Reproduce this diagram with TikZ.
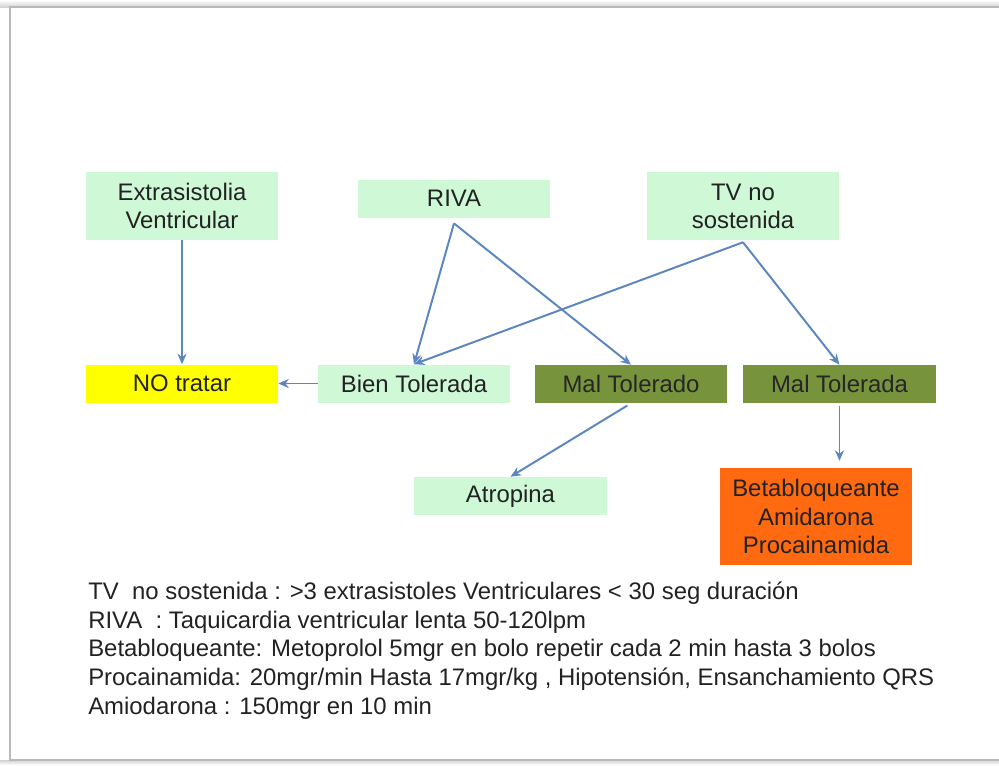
\documentclass[tikz,border=0pt]{standalone}
\usepackage{fontspec}
\setmainfont{Liberation Sans}
\usepackage{tikz}
\usetikzlibrary{arrows.meta, positioning}
\definecolor{mint}{HTML}{CFF8D6}
\definecolor{olive}{HTML}{77933C}
\definecolor{flowblue}{HTML}{5B86BF}
\definecolor{notreat}{HTML}{FFFF00}
\definecolor{drug}{HTML}{FF6A10}
\definecolor{ink}{HTML}{222222}

\begin{document}
\begin{tikzpicture}[
    x=0.025cm, y=-0.025cm,
    font=\fontsize{17}{20}\selectfont,
    box/.style={minimum width=4.8cm, minimum height=0.95cm, align=center,
        inner sep=1pt, text=ink},
    ritmo/.style={box, fill=mint},
    bien/.style={box, fill=mint},
    mal/.style={box, fill=olive, text=black!85},
    notto/.style={box, fill=notreat},
    tto/.style={box, fill=drug, minimum height=2.42cm},
    flow/.style={-{Stealth[length=7.5pt, width=6.5pt]}, line width=1.4pt, color=flowblue},
    nota/.style={font=\fontsize{17}{20.3}\selectfont, align=left, text=ink, inner sep=0pt}
]
\useasboundingbox (0,0) rectangle (999,765);

% =====================================================
% SLIDE FRAME
% =====================================================
\fill[top color=white, bottom color=gray!35] (0,0) rectangle (1010,7);
\fill[top color=gray!35, bottom color=white] (0,760) rectangle (1010,765);
\draw[gray!55, line width=1.2pt] (10,7) rectangle (1010,760);

% =====================================================
% ARRHYTHMIAS (top row)
% =====================================================
\node[ritmo, minimum height=1.7cm] (extra) at (182,206) {Extrasistolia\\Ventricular};
\node[ritmo] (riva) at (454,198.5) {RIVA};
\node[ritmo, minimum height=1.7cm] (tvns) at (743,206) {TV no\\sostenida};

% fork points just under the boxes
\coordinate[below=0.14cm of riva.south] (rivafork);
\coordinate[below=0.05cm of tvns.south] (tvfork);

% =====================================================
% TOLERANCE (middle row)
% =====================================================
\node[notto] (notratar) at (182,383.5) {NO tratar};
\node[bien] (bientol) at (414,383.5) {Bien Tolerada};
\node[mal] (maltolo) at (631,384) {Mal Tolerado};
\node[mal] (maltola) at (839.5,384) {Mal Tolerada};

% =====================================================
% TREATMENT (bottom row)
% =====================================================
\node[bien] (atropina) at (510.5,496) {Atropina};
\node[tto] (farmacos) at (816,516.5) {Betabloqueante\\Amidarona\\Procainamida};

% Flows
\draw[flow] (extra.south) -- (notratar.north);
\draw[flow] (rivafork) -- (bientol.north);
\draw[flow] (rivafork) -- (maltolo.north);
\draw[flow] (tvfork) -- (bientol.north);
\draw[flow] (tvfork) -- (maltola.north);
\draw[flow] (bientol.west) -- (notratar.east);
\draw[flow, shorten <=3pt] (maltolo.south) -- (atropina.north);
\draw[flow, shorten <=2pt, shorten >=5pt] (maltola.south) -- (maltola.south |- farmacos.north);

% =====================================================
% NOTES
% =====================================================
\node[nota, anchor=north west] (notas) at (88,582) {%
TV\ \ no sostenida : >3 extrasistoles Ventriculares < 30 seg duración\\
RIVA\ \ : Taquicardia ventricular lenta 50-120lpm\\
Betabloqueante: Metoprolol 5mgr en bolo repetir cada 2 min hasta 3 bolos\\
Procainamida: 20mgr/min Hasta 17mgr/kg , Hipotensión, Ensanchamiento QRS\\
Amiodarona : 150mgr en 10 min};

\end{tikzpicture}
\end{document}
